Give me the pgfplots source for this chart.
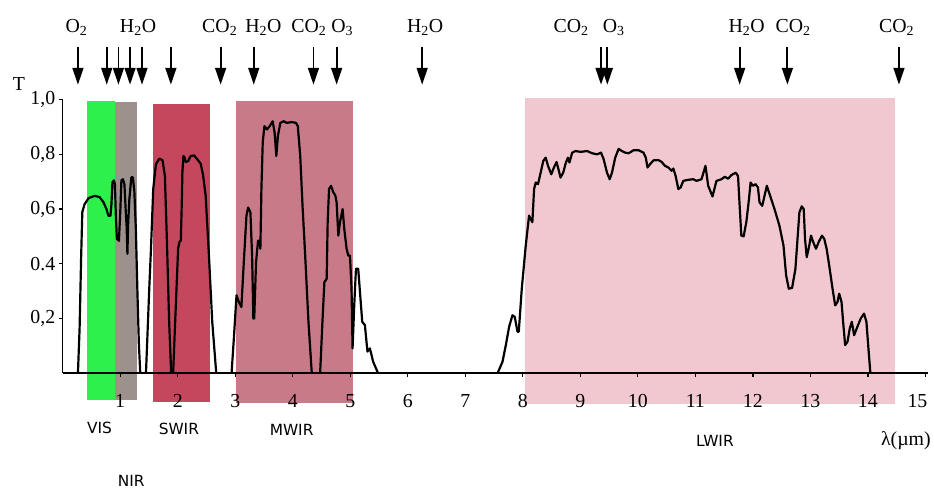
\documentclass[border=0pt]{standalone}
\usepackage{fontspec}
\setmainfont{Liberation Serif}
\newfontfamily\bandsans{DejaVu Sans}
\usepackage{pgfplots}
\pgfplotsset{compat=1.18}
\usetikzlibrary{arrows.meta}

\definecolor{visgreen}{RGB}{45,240,74}
\definecolor{nirgray}{RGB}{156,145,141}
\definecolor{swirred}{RGB}{197,71,93}
\definecolor{mwirrose}{RGB}{200,122,136}
\definecolor{lwirpink}{RGB}{241,200,208}

\newcommand\serif{\fontsize{20}{24}\selectfont}
\newcommand\bandfont{\bandsans\fontsize{15.5}{18}\selectfont}

\pgfplotsset{trans/.style={line width=2.2bp, black, line join=round, mark=none, solid}}

\begin{document}
\begin{tikzpicture}
\begin{axis}[
  x=57.8bp, y=275bp,
  xmin=0, xmax=15.05, ymin=0, ymax=1,
  axis lines*=left,
  axis line style={line width=1.6bp, black},
  xtick={1,...,14},
  extra x ticks={15},
  extra x tick style={xticklabel style={xshift=-8bp}},
  ytick={0.2,0.4,0.6,0.8,1.0},
  yticklabels={{0,2},{0.4},{0,6},{0,8},{1,0}},
  tick align=outside,
  major tick length=4bp,
  tick style={line width=1.3bp, black},
  ticklabel style={font=\serif},
  xticklabel style={yshift=-14bp},
  /pgf/number format/assume math mode=true,
  clip=false,
  axis on top,
]
% spectral bands
\addplot[fill=visgreen, draw=none] coordinates {(0.43,-0.097) (0.917,-0.097) (0.917,0.996) (0.43,0.996)} -- cycle;
\addplot[fill=nirgray, draw=none] coordinates {(0.917,-0.097) (1.298,-0.097) (1.298,0.993) (0.917,0.993)} -- cycle;
\addplot[fill=swirred, draw=none] coordinates {(1.562,-0.105) (2.566,-0.105) (2.566,0.985) (1.562,0.985)} -- cycle;
\addplot[fill=mwirrose, draw=none] coordinates {(3.02,-0.109) (5.04,-0.109) (5.04,0.994) (3.02,0.994)} -- cycle;
\addplot[fill=lwirpink, draw=none] coordinates {(8.04,-0.112) (14.47,-0.112) (14.47,1.006) (8.04,1.006)} -- cycle;

% atmospheric transmittance
\addplot[trans] coordinates {
(0.265,0) (0.294,0.164) (0.320,0.418) (0.341,0.589) (0.381,0.618) (0.450,0.640)
(0.554,0.648) (0.640,0.644) (0.709,0.625) (0.761,0.600) (0.796,0.575) (0.830,0.575)
(0.848,0.618) (0.865,0.698) (0.891,0.705) (0.908,0.691) (0.926,0.564) (0.943,0.491)
(0.978,0.484) (1.003,0.600) (1.021,0.705) (1.047,0.709) (1.073,0.691) (1.099,0.582)
(1.112,0.535) (1.125,0.436) (1.138,0.545) (1.159,0.636) (1.194,0.716) (1.220,0.716)
(1.246,0.665) (1.272,0.527) (1.298,0.309) (1.324,0.109) (1.349,0)
};
\addplot[trans] coordinates {
(1.448,0) (1.505,0.309) (1.535,0.455) (1.574,0.673) (1.621,0.764) (1.678,0.784)
(1.735,0.779) (1.777,0.721) (1.811,0.491) (1.851,0.188) (1.886,0)
};
\addplot[trans] coordinates {
(1.920,0) (1.967,0.248) (2.007,0.455) (2.030,0.480) (2.054,0.485) (2.068,0.600)
(2.081,0.733) (2.099,0.794) (2.120,0.788) (2.140,0.772) (2.180,0.775) (2.226,0.794)
(2.284,0.796) (2.341,0.782) (2.400,0.765) (2.440,0.725) (2.486,0.648) (2.543,0.430)
(2.600,0.188) (2.670,0)
};
\addplot[trans] coordinates {
(2.936,0) (2.976,0.127) (3.022,0.285) (3.062,0.261) (3.107,0.242) (3.149,0.406)
(3.195,0.576) (3.224,0.606) (3.264,0.588) (3.293,0.430) (3.315,0.200) (3.330,0.200)
(3.362,0.406) (3.397,0.485) (3.426,0.479) (3.437,0.455) (3.455,0.673) (3.478,0.843)
(3.507,0.903) (3.552,0.891) (3.599,0.903) (3.651,0.921) (3.685,0.879) (3.714,0.794)
(3.742,0.867) (3.784,0.915) (3.841,0.921) (3.898,0.915) (3.985,0.918) (4.054,0.915)
(4.088,0.903) (4.130,0.794) (4.170,0.612) (4.216,0.430) (4.273,0.188) (4.331,0)
};
\addplot[trans] coordinates {
(4.476,0) (4.516,0.188) (4.550,0.333) (4.590,0.345) (4.607,0.552) (4.631,0.673)
(4.666,0.685) (4.706,0.661) (4.740,0.650) (4.763,0.624) (4.792,0.503) (4.821,0.552)
(4.867,0.600) (4.896,0.527) (4.936,0.455) (4.965,0.430) (4.995,0.430) (5.022,0.309)
(5.040,0.091) (5.069,0.248) (5.099,0.382) (5.138,0.382) (5.173,0.285) (5.208,0.188)
(5.254,0.176) (5.299,0.079) (5.341,0.091) (5.398,0.042) (5.484,0)
};
\addplot[trans] coordinates {
(7.561,0) (7.647,0.042) (7.705,0.103) (7.762,0.170) (7.820,0.212) (7.860,0.206)
(7.907,0.152) (7.930,0.152) (7.982,0.309) (8.051,0.467) (8.109,0.576) (8.166,0.552)
(8.196,0.673) (8.224,0.697) (8.264,0.691) (8.310,0.733) (8.356,0.776) (8.397,0.788)
(8.438,0.758) (8.495,0.727) (8.541,0.752) (8.587,0.772) (8.620,0.745) (8.656,0.715)
(8.702,0.733) (8.749,0.770) (8.784,0.788) (8.811,0.770) (8.858,0.806) (8.915,0.812)
(9.002,0.809) (9.118,0.812) (9.204,0.804) (9.291,0.800) (9.360,0.806) (9.406,0.782)
(9.464,0.733) (9.510,0.709) (9.550,0.733) (9.607,0.788) (9.666,0.820) (9.723,0.812)
(9.781,0.806) (9.839,0.804) (9.926,0.815) (10.012,0.815) (10.099,0.806) (10.138,0.788)
(10.168,0.752) (10.213,0.764) (10.271,0.778) (10.358,0.779) (10.415,0.772) (10.472,0.758)
(10.531,0.752) (10.588,0.740) (10.617,0.748) (10.657,0.721) (10.704,0.673) (10.744,0.679)
(10.790,0.703) (10.877,0.707) (10.964,0.709) (11.021,0.703) (11.107,0.709) (11.176,0.758)
(11.223,0.685) (11.298,0.646) (11.367,0.703) (11.453,0.709) (11.511,0.718) (11.569,0.711)
(11.626,0.724) (11.701,0.733) (11.742,0.721) (11.770,0.612) (11.799,0.503) (11.839,0.500)
(11.886,0.552) (11.932,0.636) (11.960,0.697) (12.001,0.685) (12.047,0.691) (12.088,0.679)
(12.116,0.624) (12.163,0.612) (12.202,0.648) (12.243,0.685) (12.301,0.648) (12.376,0.600)
(12.462,0.539) (12.532,0.467) (12.578,0.358) (12.624,0.309) (12.682,0.312) (12.740,0.382)
(12.780,0.503) (12.809,0.588) (12.849,0.610) (12.884,0.600) (12.907,0.491) (12.936,0.424)
(12.981,0.467) (13.010,0.503) (13.050,0.479) (13.097,0.455) (13.143,0.479) (13.201,0.503)
(13.241,0.491) (13.282,0.455) (13.327,0.394) (13.385,0.309) (13.431,0.248) (13.472,0.261)
(13.500,0.291) (13.541,0.261) (13.569,0.188) (13.604,0.103) (13.645,0.115) (13.685,0.164)
(13.720,0.188) (13.760,0.139) (13.806,0.164) (13.875,0.200) (13.933,0.218) (13.974,0.188)
(14.009,0.091) (14.043,0)
};

% absorption bands marked by arrows
\addplot[quiver={u=0, v=-0.1385}, -{Triangle[width=11bp, length=17bp]}, line width=1.8bp, black, mark=none]
coordinates {
(0.265,1.193) (0.766,1.193) (0.969,1.193) (1.171,1.193) (1.379,1.193) (1.881,1.193)
(2.746,1.193) (3.322,1.193) (4.360,1.193) (4.763,1.193) (6.250,1.193) (9.360,1.193)
(9.470,1.193) (11.770,1.193) (12.600,1.193) (14.540,1.193)
};

% absorbing species
\begin{scope}[every node/.style={anchor=base, font=\serif, inner sep=0pt}]
\node at (axis cs:0.24,1.247) {O\textsubscript{2}};
\node at (axis cs:1.31,1.247) {H\textsubscript{2}O};
\node at (axis cs:2.73,1.247) {CO\textsubscript{2}};
\node at (axis cs:3.49,1.247) {H\textsubscript{2}O};
\node at (axis cs:4.28,1.247) {CO\textsubscript{2}};
\node at (axis cs:4.86,1.247) {O\textsubscript{3}};
\node at (axis cs:6.30,1.247) {H\textsubscript{2}O};
\node at (axis cs:8.84,1.247) {CO\textsubscript{2}};
\node at (axis cs:9.58,1.247) {O\textsubscript{3}};
\node at (axis cs:11.89,1.247) {H\textsubscript{2}O};
\node at (axis cs:12.70,1.247) {CO\textsubscript{2}};
\node at (axis cs:14.50,1.247) {CO\textsubscript{2}};
\end{scope}

% axis titles
\node[font=\serif] at (axis cs:-0.761,1.056) {T};
\node[font=\serif] at (axis cs:14.66,-0.247) {λ(µm)};

% band names
\node[font=\bandfont] at (axis cs:0.64,-0.20) {VIS};
\node[font=\bandfont] at (axis cs:1.19,-0.392) {NIR};
\node[font=\bandfont] at (axis cs:2.02,-0.205) {SWIR};
\node[font=\bandfont] at (axis cs:3.98,-0.208) {MWIR};
\node[font=\bandfont] at (axis cs:11.34,-0.247) {LWIR};

% page extent
\path (axis cs:-1.09,-0.411) rectangle (axis cs:15.07,1.364);
\end{axis}
\end{tikzpicture}
\end{document}
